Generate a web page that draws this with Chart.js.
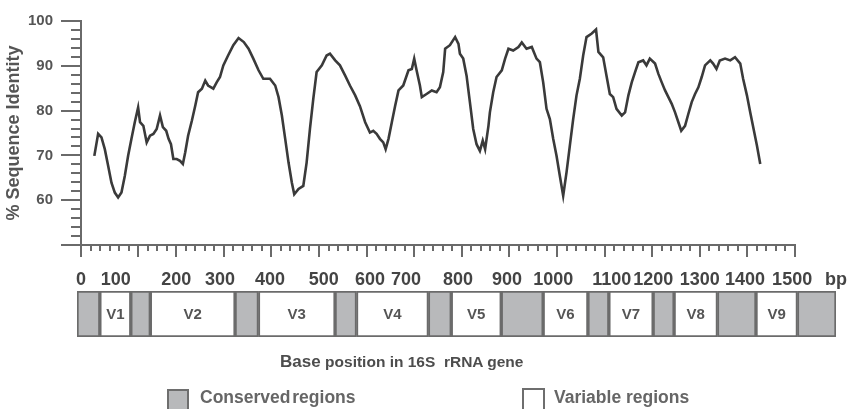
<!DOCTYPE html>
<html><head><meta charset="utf-8">
<script src="https://cdn.jsdelivr.net/npm/chart.js@4.4.1/dist/chart.umd.min.js"></script>
<style>
html,body{margin:0;padding:0;background:#fff;}
#wrap{position:relative;width:859px;height:409px;overflow:hidden;font-family:'Liberation Sans',Arial,sans-serif;font-weight:bold;}
canvas{position:absolute;}
#main{left:0;top:0;}
#regions{left:77px;top:291px;}
.txt{position:absolute;white-space:pre;line-height:1;}
.box{position:absolute;box-sizing:border-box;border:2px solid #6e6e6e;}
</style></head><body>
<div id="wrap">
<canvas id="main" width="859" height="409"></canvas>
<canvas id="regions" width="759" height="46"></canvas>
<div class="txt" style="left:280px;top:353px;color:#4d4d4d;"><span style="font-size:17px">Base</span> <span style="font-size:15.5px">position in 16S  rRNA gene</span></div>
<div class="box" style="left:167px;top:389px;width:22px;height:24px;background:#b8b9bb"></div>
<div class="txt" style="left:200px;top:389px;font-size:17.5px;color:#666;word-spacing:-3px">Conserved regions</div>
<div class="box" style="left:522px;top:388px;width:23px;height:25px;background:#fff"></div>
<div class="txt" style="left:554px;top:389px;font-size:17.5px;color:#666;">Variable regions</div>
</div>
<script>
// ---- data ----
const positions = [28,36,43,50,57,64,71,78,85,92,99,106,113,120,124,131,138,145,152,159,166,172,179,184,189,194,201,208,214,219,225,233,240,246,254,261,267,278,285,292,299,309,320,331,342,352,362,373,383,397,408,415,422,429,436,443,448,457,467,474,481,488,495,506,516,523,534,544,555,565,576,586,597,607,614,621,628,635,640,646,653,660,667,677,688,695,700,705,712,716,726,737,747,754,761,765,775,786,793,796,803,810,817,824,831,838,844,849,856,859,866,873,884,891,898,908,919,926,936,947,957,964,971,978,985,992,999,1006,1013,1020,1027,1034,1041,1048,1055,1062,1073,1082,1087,1097,1104,1111,1118,1125,1136,1143,1150,1157,1164,1171,1181,1188,1195,1206,1213,1220,1227,1234,1241,1248,1255,1261,1269,1276,1283,1290,1297,1304,1311,1322,1328,1335,1342,1353,1364,1374,1385,1391,1399,1406,1413,1420,1427];
const identity = [69.9,74.8,74.0,71.4,67.7,63.9,61.7,60.6,61.7,65.4,69.9,73.7,77.4,80.7,77.4,76.6,72.9,74.4,74.8,75.9,78.9,76.3,75.5,73.7,72.5,69.2,69.2,68.8,68.1,70.7,74.4,77.8,81.1,84.1,84.9,86.7,85.6,84.9,86.3,87.5,90.1,92.3,94.6,96.2,95.3,93.8,91.6,89.0,87.1,87.1,85.6,83.0,78.9,73.7,68.4,63.9,61.3,62.5,63.2,68.4,75.9,82.6,88.6,90.1,92.3,92.7,91.2,90.1,87.8,85.6,83.4,81.0,77.4,75.1,75.5,74.8,73.7,72.9,71.4,73.7,77.4,81.1,84.5,85.6,89.0,89.3,91.6,89.0,85.6,83.0,83.7,84.5,84.1,85.2,88.6,93.8,94.6,96.4,94.9,92.7,91.6,87.8,81.9,75.9,72.5,71.0,73.3,71.4,76.6,79.6,84.1,87.5,89.0,91.6,93.8,93.4,94.2,95.2,93.8,94.2,91.6,90.8,86.3,80.4,78.1,73.7,69.9,65.4,61.0,66.2,72.2,78.1,83.4,87.1,92.3,96.4,97.2,98.1,93.1,91.9,87.8,83.7,83.0,80.4,78.9,79.6,83.4,86.3,88.6,90.8,91.2,90.1,91.6,90.5,88.2,86.3,84.5,83.0,81.5,79.6,77.4,75.5,76.6,79.3,81.9,83.7,85.2,87.5,90.1,91.2,90.5,89.3,91.2,91.6,91.2,91.9,90.5,87.1,83.4,79.6,75.9,72.2,68.1];
const majorTickValues = [0,120,200,300,400,500,600,700,800,900,1000,1100,1200,1300,1400,1500];
const xTickLabels = ['0','100','200','300','400','500','600','700','800','900','1000','1100','1200','1300','1400','1500','bp'];
const xTickLabelAnchors = [0,73,200,292,397,510,607,683,792,895,992,1115,1202,1300,1395,1494,1586];
const regionNames = ['','V1','','V2','','V3','','V4','','V5','','V6','','V7','','V8','','V9',''];
const regionKinds = ['C','V','C','V','C','V','C','V','C','V','C','V','C','V','C','V','C','V','C'];
const regionStart = [-8,40,105,146,324,373,534,579,730,778,883,971,1065,1109,1202,1246,1337,1418,1505];
const regionEnd   = [40,105,146,324,373,534,579,730,778,883,971,1065,1109,1202,1246,1337,1418,1505,1586];

// ---- chart ----
const FONT = "'Liberation Sans', Arial, sans-serif";
Chart.defaults.font.family = FONT;
Chart.defaults.animation = false;
const AX = '#6a6a6a';
const noPad = s => { s.paddingLeft = 0; s.paddingRight = 0; s.paddingTop = 0; s.paddingBottom = 0; };

new Chart(document.getElementById('main'), {
  type: 'line',
  data: { datasets: [{
    data: positions.map((p, i) => ({ x: p, y: identity[i] })),
    borderColor: '#3a3a3a', borderWidth: 2.6, pointRadius: 0, tension: 0, fill: false,
    xAxisID: 'x', yAxisID: 'y'
  }] },
  options: {
    responsive: false, animation: false, events: [],
    layout: { padding: { left: 0, top: 21, right: 64, bottom: 104 } },
    plugins: { legend: { display: false }, tooltip: { enabled: false } },
    scales: {
      x: { type: 'linear', position: 'bottom', weight: 0, min: 0, max: 1500,
        grid: { drawOnChartArea: false, drawTicks: true, tickLength: 12, color: AX, lineWidth: 2 },
        border: { display: true, color: AX, width: 2 },
        ticks: { display: false, autoSkip: false },
        afterBuildTicks: s => { s.ticks = majorTickValues.map(v => ({ value: v })); },
        afterFit: s => { s.height = 0; noPad(s); } },
      xMinor: { type: 'linear', position: 'bottom', weight: 1, min: 0, max: 1500,
        grid: { drawOnChartArea: false, drawTicks: true, tickLength: 6, color: AX, lineWidth: 2 },
        border: { display: false },
        ticks: { display: false, stepSize: 20, autoSkip: false },
        afterFit: s => { s.height = 0; noPad(s); } },
      xLabels: { type: 'linear', position: 'bottom', weight: 2, min: 0, max: 1500,
        grid: { display: false, drawTicks: false },
        border: { display: false },
        ticks: { display: true, autoSkip: false, maxRotation: 0, minRotation: 0, padding: 24, color: '#444',
          font: { size: 18, weight: 'bold' }, callback: (v, i) => xTickLabels[i] },
        afterBuildTicks: s => { s.ticks = xTickLabelAnchors.map(v => ({ value: v })); },
        afterFit: s => { s.height = 60; noPad(s); } },
      y: { type: 'linear', position: 'left', weight: 1, min: 50, max: 100,
        grid: { drawOnChartArea: false, drawTicks: true, tickLength: 20, color: AX, lineWidth: 2 },
        border: { display: true, color: AX, width: 2 },
        ticks: { stepSize: 10, padding: 8, color: '#555', font: { size: 15, weight: 'bold' },
          callback: v => (v === 50 ? '' : String(v)) },
        title: { display: true, text: '% Sequence Identity', color: '#555', font: { size: 18, weight: 'bold' }, padding: { top: 3, bottom: 3 } },
        afterFit: s => { s.width = 81; } },
      yMinor: { type: 'linear', position: 'left', weight: 0, min: 50, max: 100,
        grid: { drawOnChartArea: false, drawTicks: true, tickLength: 10, color: AX, lineWidth: 2 },
        border: { display: false },
        ticks: { display: false, stepSize: 2 },
        afterFit: s => { s.width = 0; } }
    }
  }
});

new Chart(document.getElementById('regions'), {
  type: 'bar',
  data: { labels: ['16S'], datasets: regionStart.map((s, i) => ({
    label: regionNames[i], data: [[s, regionEnd[i]]],
    backgroundColor: regionKinds[i] === 'C' ? '#b8b9bb' : '#ffffff',
    borderColor: '#6b6b6b', borderWidth: 2, borderSkipped: false,
    grouped: false, barPercentage: 1, categoryPercentage: 1
  })) },
  options: {
    indexAxis: 'y', responsive: false, animation: false, events: [],
    layout: { padding: 0 },
    plugins: { legend: { display: false }, tooltip: { enabled: false } },
    scales: { x: { type: 'linear', min: -8, max: 1586, display: false }, y: { type: 'category', display: false } }
  },
  plugins: [{ id: 'segLabels', afterDatasetsDraw(chart) {
    const ctx = chart.ctx; ctx.save();
    ctx.font = "bold 15px " + FONT; ctx.fillStyle = '#555'; ctx.textAlign = 'center'; ctx.textBaseline = 'middle';
    chart.data.datasets.forEach((ds, i) => {
      if (!ds.label) return;
      const el = chart.getDatasetMeta(i).data[0];
      ctx.fillText(ds.label, (el.x + el.base) / 2, el.y + 1);
    });
    ctx.restore();
  } }]
});
</script>
</body></html>
